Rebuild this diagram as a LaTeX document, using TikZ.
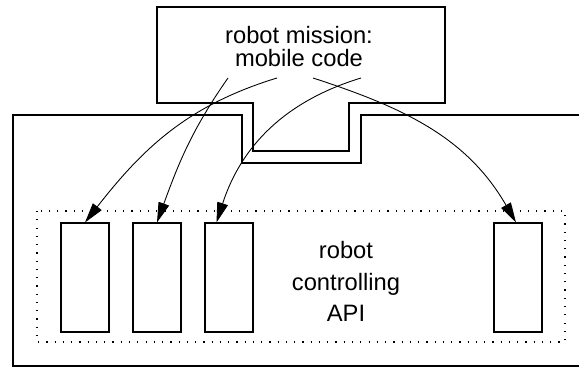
\documentclass[tikz,border=0pt]{standalone}
\usepackage{fontspec}
\setmainfont{Liberation Sans}
\usetikzlibrary{arrows.meta}
\begin{document}
\begin{tikzpicture}[line width=0.6pt,
    slot/.style={draw, minimum width=0.96cm, minimum height=2.18cm, inner sep=0pt},
    label/.style={align=center, inner sep=0pt},
    call/.style={-{Triangle[length=0.4cm,width=0.22cm]}, line width=0.5pt}]

    \clip (0,0) rectangle (11.58,7.34);

    % mission box with its plug
    \draw (3.14,7.20) -- (8.90,7.20) -- (8.90,5.28) -- (6.98,5.28) -- (6.98,4.32)
        -- (5.06,4.32) -- (5.06,5.28) -- (3.14,5.28) -- cycle;
    % robot with its socket
    \draw (11.8,5.04) -- (7.22,5.04) -- (7.22,4.08) -- (4.84,4.08) -- (4.84,5.04)
        -- (0.26,5.04) -- (0.26,0.02) -- (11.8,0.02);

    \draw[dash pattern=on 0.7pt off 4pt] (0.74,3.12) rectangle (11.30,0.50);

    \node[label, font=\fontsize{13.5}{13.6}\selectfont] (mission) at (5.98,6.41) {robot mission:\\mobile code};
    \node[label, font=\fontsize{13.5}{17.9}\selectfont] (api) at (6.92,1.705) {robot\\controlling\\API};

    \foreach \n/\x in {1/1.70, 2/3.14, 3/4.58, 4/10.36} \node[slot] (r\n) at (\x,1.79) {};

    \coordinate (s1) at (5.54,5.78);
    \coordinate (s2) at (4.56,5.78);
    \coordinate (s3) at (7.22,5.78);
    \coordinate (s4) at (6.26,5.78);

    \draw[call] (s1) to[out=197,in=52] (r1.north);
    \draw[call] (s2) to[out=235,in=70] (r2.north);
    \draw[call] (s3) to[out=197,in=72] ([xshift=0.24cm]r3.north west);
    \draw[call] (s4) to[out=-18,in=120] ([xshift=-0.04cm]r4.north);

\end{tikzpicture}
\end{document}
